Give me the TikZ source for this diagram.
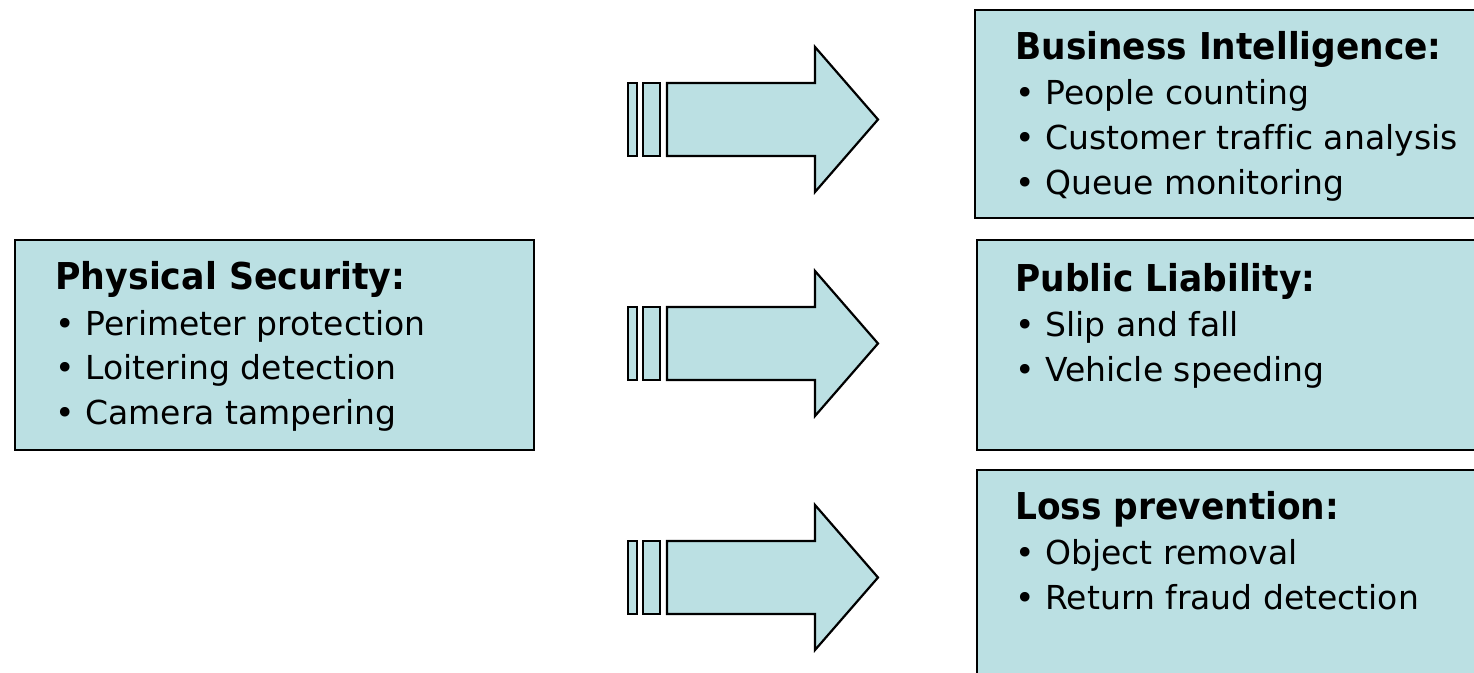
\documentclass[tikz,border=0pt]{standalone}
\usepackage{fontspec}
\setmainfont{DejaVu Sans}[Ligatures=NoCommon]
\definecolor{boxfill}{HTML}{BBE0E3}
\begin{document}
\begin{tikzpicture}[x=0.5pt,y=-0.5pt,
  panel/.style={draw=black, line width=1.1pt, fill=boxfill, anchor=north west, inner sep=0pt},
  heading/.style={font=\fontsize{18.5}{22}\selectfont\bfseries, inner sep=0pt, anchor=base west},
  bulletmark/.style={font=\fontsize{16.5}{20}\selectfont, inner sep=0pt, anchor=base west},
  item/.style={font=\fontsize{16.5}{20}\selectfont, inner sep=0pt, anchor=base west},
  blockshape/.style={draw=black, line width=1.1pt, fill=boxfill, line join=miter}]
\useasboundingbox (0,0) rectangle (1474,673);
\clip (0,0) rectangle (1474,673);

% boxes
\node[panel, minimum width=259.5pt, minimum height=105pt] (ps) at (14,239) {};
\node[panel, minimum width=260pt, minimum height=104pt] (bi) at (974,9) {};
\node[panel, minimum width=260pt, minimum height=105pt] (pl) at (976,239) {};
\node[panel, minimum width=260pt, minimum height=110pt] (lp) at (976,469) {};

% Physical Security
\node[heading] (psh) at (55,290) {\scalebox{0.94}[1]{Physical Security:}};
\node[bulletmark] (psb1) at (55,336) {•};
\node[item] (psi1) at (85,336) {Perimeter protection};
\node[bulletmark] (psb2) at (55,380) {•};
\node[item] (psi2) at (85,380) {Loitering detection};
\node[bulletmark] (psb3) at (55,425) {•};
\node[item] (psi3) at (85,425) {Camera tampering};

% Business Intelligence
\node[heading] (bih) at (1015,60) {\scalebox{0.93}[1]{Business Intelligence:}};
\node[bulletmark] (bib1) at (1015,105) {•};
\node[item] (bii1) at (1045,105) {People counting};
\node[bulletmark] (bib2) at (1015,150) {•};
\node[item] (bii2) at (1045,150) {Customer traffic analysis};
\node[bulletmark] (bib3) at (1015,195) {•};
\node[item] (bii3) at (1045,195) {Queue monitoring};

% Public Liability
\node[heading] (plh) at (1015,292) {\scalebox{0.93}[1]{Public Liability:}};
\node[bulletmark] (plb1) at (1015,337) {•};
\node[item] (pli1) at (1045,337) {Slip and fall};
\node[bulletmark] (plb2) at (1015,382) {•};
\node[item] (pli2) at (1045,382) {Vehicle speeding};

% Loss prevention
\node[heading] (lph) at (1015,520) {\scalebox{0.93}[1]{Loss prevention:}};
\node[bulletmark] (lpb1) at (1015,565) {•};
\node[item] (lpi1) at (1045,565) {Object removal};
\node[bulletmark] (lpb2) at (1015,610) {•};
\node[item] (lpi2) at (1045,610) {Return fraud detection};

% striped block arrows
\foreach \cy in {119.5,343.5,577.5}{
  \draw[blockshape] (628,\cy-36.5) rectangle (637,\cy+36.5);
  \draw[blockshape] (643,\cy-36.5) rectangle (660,\cy+36.5);
  \draw[blockshape] (667,\cy-36.5) -- (815,\cy-36.5) -- (815,\cy-72.5)
     -- (878,\cy) -- (815,\cy+72.5) -- (815,\cy+36.5) -- (667,\cy+36.5) -- cycle;
}
\end{tikzpicture}
\end{document}
